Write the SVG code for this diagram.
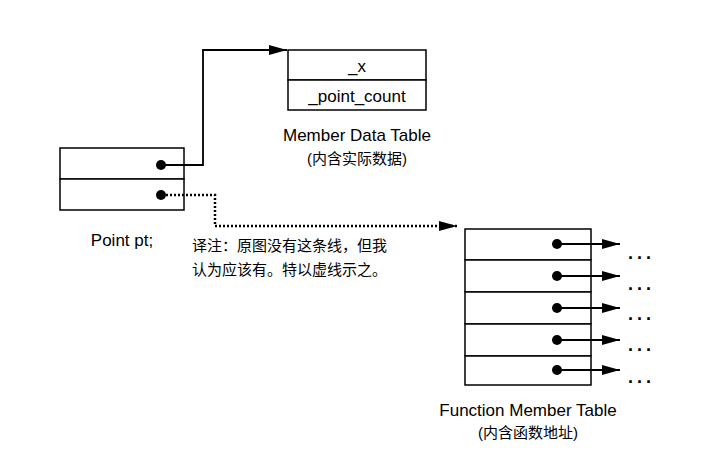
<svg xmlns="http://www.w3.org/2000/svg" width="725" height="460" viewBox="0 0 725 460">
<style>
.box{fill:#fff;stroke:#000;stroke-width:1.5}
.t{font-family:"Liberation Sans",Arial,sans-serif;font-size:17px;fill:#000}
.c{font-family:"Liberation Sans","Noto Sans CJK SC",sans-serif;font-size:15px;fill:#000}
.ln{fill:none;stroke:#000;stroke-width:1.8}
.dl{fill:none;stroke:#000;stroke-width:2.5;stroke-dasharray:2 2}
</style>
<defs>
<marker id="ah" markerWidth="18" markerHeight="10" refX="18" refY="5" orient="auto" markerUnits="userSpaceOnUse"><path d="M0,0 L18,5 L0,10 Z" fill="#000"/></marker>
</defs>
<rect width="725" height="460" fill="#fff"/>
<g id="point">
<rect class="box" x="60" y="148" width="124" height="31"/>
<rect class="box" x="60" y="179" width="124" height="31"/>
<circle cx="161" cy="165" r="5"/>
<circle cx="161" cy="195" r="5"/>
<text class="t" x="122" y="246" text-anchor="middle" font-size="16">Point pt;</text>
</g>
<g id="datatable">
<rect class="box" x="288" y="50" width="138" height="30"/>
<rect class="box" x="288" y="80" width="138" height="30"/>
<text class="t" x="357" y="72" text-anchor="middle">_x</text>
<text class="t" x="357" y="102" text-anchor="middle">_point_count</text>
<text class="t" x="357" y="141" text-anchor="middle">Member Data Table</text>
<text class="c" x="357" y="164" text-anchor="middle">(内含实际数据)</text>
</g>
<g id="functable">
<rect class="box" x="465" y="229" width="126" height="31"/>
<rect class="box" x="465" y="260" width="126" height="32"/>
<rect class="box" x="465" y="292" width="126" height="32"/>
<rect class="box" x="465" y="324" width="126" height="32"/>
<rect class="box" x="465" y="356" width="126" height="29"/>
<circle cx="557" cy="244" r="5"/><circle cx="557" cy="276" r="5"/><circle cx="557" cy="308" r="5"/><circle cx="557" cy="340" r="5"/><circle cx="557" cy="370" r="5"/>
<g font-family="Liberation Sans,Arial,sans-serif" font-size="18" font-weight="bold" letter-spacing="4">
<text x="628" y="259">...</text>
<text x="628" y="290">...</text>
<text x="628" y="320">...</text>
<text x="628" y="351">...</text>
<text x="628" y="383">...</text>
</g>
<text class="t" x="528" y="416" text-anchor="middle">Function Member Table</text>
<text class="c" x="528" y="438" text-anchor="middle">(内含函数地址)</text>
</g>
<g id="note">
<text class="c" x="192" y="251">译注：原图没有这条线，但我</text>
<text class="c" x="192" y="275">认为应该有。特以虚线示之。</text>
</g>
<g id="connectors">
<path class="ln" d="M161,165 H203 V50 H287" marker-end="url(#ah)"/>
<path class="dl" d="M166,195 H215 V226 H457" marker-end="url(#ah)"/>
<path class="ln" d="M557,244 H620" marker-end="url(#ah)"/>
<path class="ln" d="M557,276 H620" marker-end="url(#ah)"/>
<path class="ln" d="M557,308 H620" marker-end="url(#ah)"/>
<path class="ln" d="M557,340 H620" marker-end="url(#ah)"/>
<path class="ln" d="M557,370 H620" marker-end="url(#ah)"/>
</g>
</svg>
